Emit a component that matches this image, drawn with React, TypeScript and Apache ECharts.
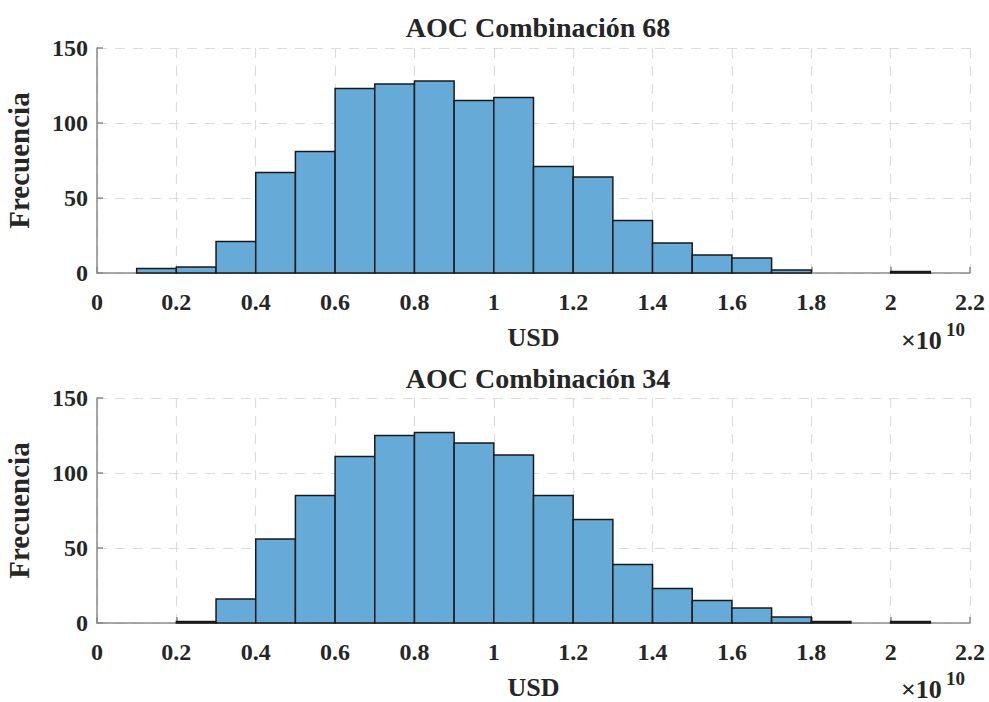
import React, { useEffect, useRef } from "react";
import * as echarts from "echarts";

// Bin edges (units of 1e10 USD)
const binStart = [0.1, 0.2, 0.3, 0.4, 0.5, 0.6, 0.7, 0.8, 0.9, 1.0, 1.1, 1.2, 1.3, 1.4, 1.5, 1.6, 1.7, 1.8, 1.9, 2.0];
const binEnd = [0.2, 0.3, 0.4, 0.5, 0.6, 0.7, 0.8, 0.9, 1.0, 1.1, 1.2, 1.3, 1.4, 1.5, 1.6, 1.7, 1.8, 1.9, 2.0, 2.1];

const counts68 = [3, 4, 21, 67, 81, 123, 126, 128, 115, 117, 71, 64, 35, 20, 12, 10, 2, 0, 0, 1];
const counts34 = [0, 1, 16, 56, 85, 111, 125, 127, 120, 112, 85, 69, 39, 23, 15, 10, 4, 1, 0, 1];

const titles = ["AOC Combinación 68", "AOC Combinación 34"];
const xLabel = "USD";
const yLabel = "Frecuencia";
const xTicks = [0, 0.2, 0.4, 0.6, 0.8, 1, 1.2, 1.4, 1.6, 1.8, 2, 2.2];
const yTicks = [0, 50, 100, 150];
const exponentBase = "×10";
const exponent = "10";

const FONT = "'Liberation Serif', 'Times New Roman', serif";
const TXT = "#262626";
const BAR = "rgb(102,170,215)";

export default function App() {
  const ref = useRef<HTMLDivElement>(null);
  useEffect(() => {
    if (!ref.current) return;
    const chart = echarts.init(ref.current, null, { renderer: "svg" });
    const grids = [
      { left: 97, right: 19, top: 48, height: 225, containLabel: false, outerBoundsMode: "none" },
      { left: 97, right: 19, top: 398, height: 225, containLabel: false, outerBoundsMode: "none" },
    ];
    const series: any[] = [];
    const xAxes: any[] = [];
    const yAxes: any[] = [];
    const allCounts = [counts68, counts34];
    grids.forEach((g, i) => {
      xAxes.push({
        type: "value",
        gridIndex: i,
        min: xTicks[0],
        max: xTicks[xTicks.length - 1],
        interval: 0.2,
        axisLine: { show: true, onZero: false, lineStyle: { color: "#8a8a8a", width: 1.5 } },
        axisTick: { show: true, inside: true, length: 6, lineStyle: { color: "#8a8a8a", width: 1.5 } },
        axisLabel: {
          color: TXT,
          fontFamily: FONT,
          fontWeight: "bold",
          fontSize: 24,
          margin: 17,
          formatter: (v: number) => String(+v.toFixed(1)),
        },
        splitLine: { show: true, lineStyle: { color: "#dcdcdc", type: [10, 8], width: 1.2 } },
        name: xLabel,
        nameLocation: "middle",
        nameGap: 51,
        nameTextStyle: { color: TXT, fontFamily: FONT, fontWeight: "bold", fontSize: 26 },
      });
      yAxes.push({
        type: "value",
        gridIndex: i,
        min: yTicks[0],
        max: yTicks[yTicks.length - 1],
        interval: 50,
        axisLine: { show: true, onZero: false, lineStyle: { color: "#8a8a8a", width: 1.5 } },
        axisTick: { show: true, inside: true, length: 6, lineStyle: { color: "#8a8a8a", width: 1.5 } },
        axisLabel: { color: TXT, fontFamily: FONT, fontWeight: "bold", fontSize: 24, margin: 9 },
        splitLine: { show: true, lineStyle: { color: "#dcdcdc", type: [10, 8], width: 1.2 } },
        name: yLabel,
        nameLocation: "middle",
        nameGap: 64,
        nameRotate: 90,
        nameTextStyle: { color: TXT, fontFamily: FONT, fontWeight: "bold", fontSize: 29 },
      });
      const data = binStart.map((s, k) => [s, binEnd[k], allCounts[i][k]]);
      series.push({
        type: "custom",
        xAxisIndex: i,
        yAxisIndex: i,
        encode: { x: [0, 1], y: 2 },
        data,
        renderItem: (params: any, api: any) => {
          const x0 = api.value(0);
          const x1 = api.value(1);
          const y = api.value(2);
          if (!y) return null;
          const p0 = api.coord([x0, 0]);
          const p1 = api.coord([x1, y]);
          return {
            type: "rect",
            shape: { x: p0[0], y: p1[1], width: p1[0] - p0[0], height: p0[1] - p1[1] },
            style: { fill: BAR, stroke: "#1a1a1a", lineWidth: 1.5 },
          };
        },
      });
    });
    const expTexts: any[] = [];
    [327, 676].forEach((y) => {
      expTexts.push({
        type: "text",
        left: 901,
        top: y,
        style: { text: exponentBase, fontFamily: FONT, fontSize: 26, fontWeight: "bold", fill: TXT },
      });
      expTexts.push({
        type: "text",
        left: 946,
        top: y - 7,
        style: { text: exponent, fontFamily: FONT, fontSize: 19, fontWeight: "bold", fill: TXT },
      });
    });
    chart.setOption({
      animation: false,
      backgroundColor: "#ffffff",
      title: [
        {
          text: titles[0],
          left: 533,
          top: 8,
          textAlign: "center",
          textStyle: { color: TXT, fontFamily: FONT, fontWeight: "bold", fontSize: 28 },
        },
        {
          text: titles[1],
          left: 533,
          top: 359,
          textAlign: "center",
          textStyle: { color: TXT, fontFamily: FONT, fontWeight: "bold", fontSize: 28 },
        },
      ],
      grid: grids,
      xAxis: xAxes,
      yAxis: yAxes,
      series,
      graphic: expTexts,
    });
    return () => chart.dispose();
  }, []);
  return <div ref={ref} style={{ width: 989, height: 702, position: "absolute", left: 0, top: 0 }} />;
}
